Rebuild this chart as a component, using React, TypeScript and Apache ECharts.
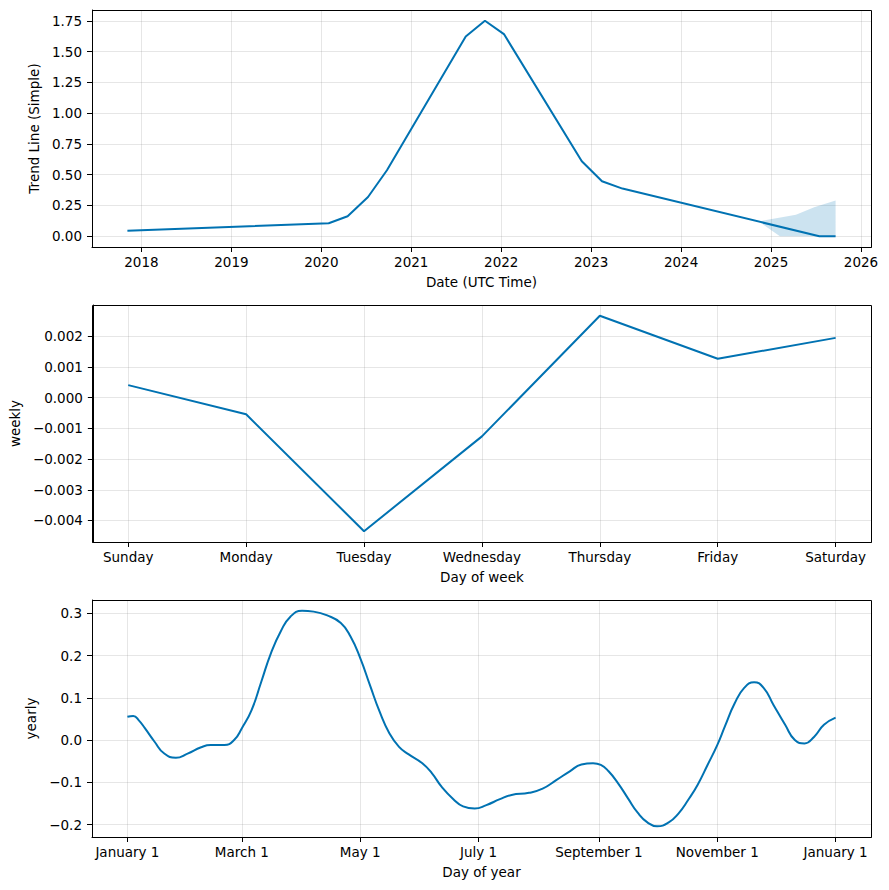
import React, { useEffect, useRef } from 'react';
import * as echarts from 'echarts';

// ---------- Trend (top panel) ----------
const trendDates = ['2017-11-05', '2020-01-31', '2020-04-17', '2020-07-09', '2020-09-24', '2021-08-10', '2021-10-27', '2022-01-12', '2022-11-24', '2023-02-14', '2023-05-08', '2025-07-16', '2025-09-20'];
const trendValues = [0.045, 0.105, 0.162, 0.319, 0.536, 1.623, 1.75, 1.642, 0.609, 0.446, 0.387, 0.0, 0.0];
const bandUpperDates = ['2024-11-12', '2025-04-12', '2025-06-25', '2025-09-20'];
const bandUpperValues = [0.12, 0.175, 0.235, 0.29];
const bandLowerDates = ['2024-11-12', '2025-02-06', '2025-09-20'];
const bandLowerValues = [0.12, 0.0, 0.0];
const trendXTicks = [2018, 2019, 2020, 2021, 2022, 2023, 2024, 2025, 2026];
const trendYTicks = [0, 0.25, 0.5, 0.75, 1.0, 1.25, 1.5, 1.75];

// ---------- Weekly (middle panel) ----------
const weekDays = ['Sunday', 'Monday', 'Tuesday', 'Wednesday', 'Thursday', 'Friday', 'Saturday'];
const weeklyValues = [0.00041, -0.00054, -0.00435, -0.00126, 0.00267, 0.00127, 0.00195];
const weeklyYTicks = [-0.004, -0.003, -0.002, -0.001, 0, 0.001, 0.002];

// ---------- Yearly (bottom panel) ----------
const yearlyDays = [0, 3, 6, 9, 14, 19, 25, 31, 38, 43, 50, 55, 59, 64, 69, 74, 79, 84, 90, 96, 103, 110, 115, 120, 125, 130, 135, 140, 145, 152, 157, 162, 168, 173, 179, 185, 192, 198, 207, 214, 221, 228, 234, 240, 244, 248, 253, 258, 263, 268, 273, 279, 284, 289, 294, 299, 304, 308, 313, 318, 323, 328, 333, 339, 344, 349, 354, 359, 365];
const yearlyValues = [0.055, 0.057, 0.046, 0.028, -0.004, -0.032, -0.042, -0.032, -0.017, -0.012, -0.012, 0.0, 0.028, 0.071, 0.138, 0.206, 0.257, 0.292, 0.306, 0.304, 0.295, 0.277, 0.245, 0.194, 0.13, 0.067, 0.016, -0.016, -0.034, -0.055, -0.079, -0.111, -0.14, -0.157, -0.162, -0.154, -0.14, -0.13, -0.125, -0.115, -0.095, -0.074, -0.058, -0.055, -0.059, -0.074, -0.103, -0.138, -0.172, -0.195, -0.204, -0.195, -0.174, -0.142, -0.105, -0.059, -0.012, 0.033, 0.087, 0.124, 0.137, 0.123, 0.083, 0.036, 0.0, -0.008, 0.008, 0.036, 0.053];
const yearlyXTickDays = [0, 59, 120, 181, 243, 304, 365];
const yearlyXTickLabels = ['January 1', 'March 1', 'May 1', 'July 1', 'September 1', 'November 1', 'January 1'];
const yearlyYTicks = [-0.2, -0.1, 0, 0.1, 0.2, 0.3];

const LINE = '#0072B2';
const FONT = 'DejaVu Sans';
const FS = 13.5;
const GRID_LEFT = 92;
const GRID_W = 779;
const GRID_H = 237;
const GRID_TOPS = [10, 305, 600];

function decYear(s: string): number {
  const [y, m, d] = s.split('-').map(Number);
  const start = Date.UTC(y, 0, 1);
  const end = Date.UTC(y + 1, 0, 1);
  return y + (Date.UTC(y, m - 1, d) - start) / (end - start);
}

function padded(vals: number[]): [number, number] {
  const mn = Math.min(...vals);
  const mx = Math.max(...vals);
  const p = (mx - mn) * 0.05;
  return [mn - p, mx + p];
}

const minus = (s: string) => s.replace('-', '\u2212');

function xAxisBase(grid: number, name: string, ext: [number, number], ticks: number[], fmt: (v: number) => string) {
  return {
    type: 'value',
    gridIndex: grid,
    position: 'bottom',
    min: ext[0],
    max: ext[1],
    name,
    nameLocation: 'middle',
    nameGap: 28,
    nameTextStyle: { fontFamily: FONT, fontSize: FS, color: '#000' },
    axisLine: { show: true, onZero: false, lineStyle: { color: '#000', width: 1 } },
    axisTick: { show: true, length: 5, inside: false, customValues: ticks, lineStyle: { color: '#000', width: 1 } },
    axisLabel: { show: true, customValues: ticks, margin: 8, fontFamily: FONT, fontSize: FS, color: '#000', formatter: fmt },
    splitLine: { show: true, lineStyle: { color: 'rgba(128,128,128,0.2)', width: 1 } },
  };
}

function yAxisBase(grid: number, name: string, nameGap: number, ext: [number, number], ticks: number[], fmt: (v: number) => string) {
  return {
    type: 'value',
    gridIndex: grid,
    position: 'left',
    min: ext[0],
    max: ext[1],
    name,
    nameLocation: 'middle',
    nameGap,
    nameTextStyle: { fontFamily: FONT, fontSize: FS, color: '#000' },
    axisLine: { show: true, onZero: false, lineStyle: { color: '#000', width: 1 } },
    axisTick: { show: true, length: 5, inside: false, customValues: ticks, lineStyle: { color: '#000', width: 1 } },
    axisLabel: { show: true, customValues: ticks, margin: 10, fontFamily: FONT, fontSize: FS, color: '#000', formatter: fmt },
    splitLine: { show: true, lineStyle: { color: 'rgba(128,128,128,0.2)', width: 1 } },
  };
}

export default function App() {
  const ref = useRef<HTMLDivElement>(null);

  useEffect(() => {
    if (!ref.current) return;
    const chart = echarts.init(ref.current, null, { renderer: 'svg' });

    const trendX = trendDates.map(decYear);
    const upX = bandUpperDates.map(decYear);
    const loX = bandLowerDates.map(decYear);
    const trendXExt = padded([...trendX, ...upX, ...loX]);
    const trendYExt = padded([...trendValues, ...bandUpperValues, ...bandLowerValues]);
    const weekIdx = weekDays.map((_, i) => i);
    const weekXExt = padded(weekIdx);
    const weekYExt = padded(weeklyValues);
    const yearXExt = padded(yearlyDays);
    const yearYExt = padded(yearlyValues);

    const gridCommon = { left: GRID_LEFT, width: GRID_W, height: GRID_H, show: false };

    chart.setOption({
      animation: false,
      backgroundColor: '#fff',
      grid: GRID_TOPS.map((t) => ({ ...gridCommon, top: t })),
      graphic: GRID_TOPS.map((t) => ({
        type: 'rect',
        silent: true,
        z: 100,
        shape: { x: GRID_LEFT + 0.5, y: t + 0.5, width: GRID_W, height: GRID_H },
        style: { fill: 'none', stroke: '#000', lineWidth: 1 },
      })),
      xAxis: [
        xAxisBase(0, 'Date (UTC Time)', trendXExt, trendXTicks, (v) => String(Math.round(v))),
        xAxisBase(1, 'Day of week', weekXExt, weekIdx, (v) => weekDays[Math.round(v)] ?? ''),
        xAxisBase(2, 'Day of year', yearXExt, yearlyXTickDays, (v) => {
          const i = yearlyXTickDays.indexOf(Math.round(v));
          return i >= 0 ? yearlyXTickLabels[i] : '';
        }),
      ],
      yAxis: [
        yAxisBase(0, 'Trend Line (Simple)', 47, trendYExt, trendYTicks, (v) => minus(v.toFixed(2))),
        yAxisBase(1, 'weekly', 67, weekYExt, weeklyYTicks, (v) => minus(v.toFixed(3))),
        yAxisBase(2, 'yearly', 50, yearYExt, yearlyYTicks, (v) => minus(v.toFixed(1))),
      ],
      series: [
        {
          type: 'custom',
          xAxisIndex: 0,
          yAxisIndex: 0,
          silent: true,
          data: [[upX[0], bandUpperValues[0]]],
          renderItem: (params: any, api: any) => {
            const pts: number[][] = [];
            upX.forEach((x, i) => pts.push(api.coord([x, bandUpperValues[i]])));
            for (let i = loX.length - 1; i >= 0; i--) pts.push(api.coord([loX[i], bandLowerValues[i]]));
            return { type: 'polygon', shape: { points: pts }, style: { fill: 'rgba(0,114,178,0.2)', stroke: 'none' } };
          },
        },
        {
          type: 'line',
          xAxisIndex: 0,
          yAxisIndex: 0,
          data: trendX.map((x, i) => [x, trendValues[i]]),
          symbol: 'none',
          lineStyle: { color: LINE, width: 2 },
          silent: true,
        },
        {
          type: 'line',
          xAxisIndex: 1,
          yAxisIndex: 1,
          data: weekIdx.map((x, i) => [x, weeklyValues[i]]),
          symbol: 'none',
          lineStyle: { color: LINE, width: 2 },
          silent: true,
        },
        {
          type: 'line',
          xAxisIndex: 2,
          yAxisIndex: 2,
          data: yearlyDays.map((x, i) => [x, yearlyValues[i]]),
          symbol: 'none',
          smooth: 0.5,
          lineStyle: { color: LINE, width: 2 },
          silent: true,
        },
      ],
    });

    return () => chart.dispose();
  }, []);

  return <div ref={ref} style={{ position: 'absolute', left: 0, top: 0, width: 889, height: 890 }} />;
}
